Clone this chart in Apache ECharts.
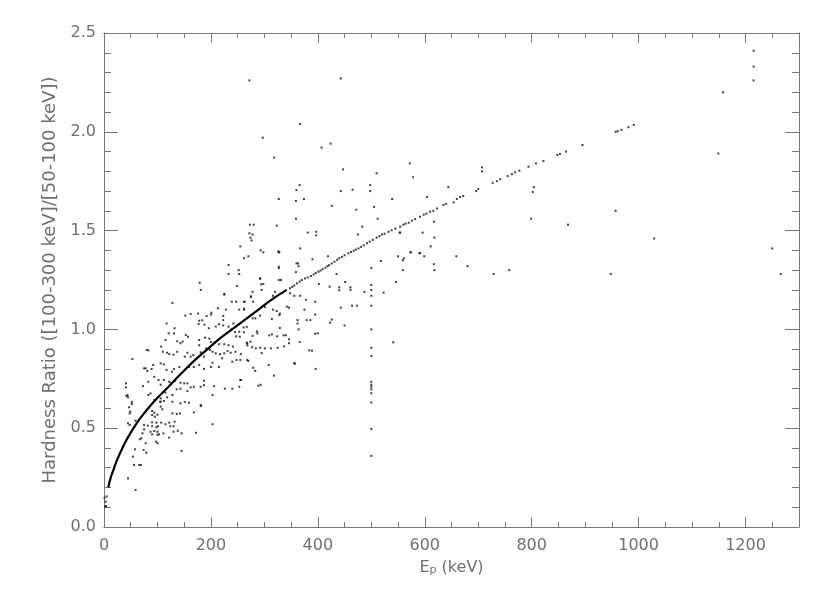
<!DOCTYPE html>
<html><head><meta charset="utf-8">
<script src="https://cdn.jsdelivr.net/npm/echarts@6/dist/echarts.min.js"></script>
<style>html,body{margin:0;padding:0;background:#fff}#c{width:830px;height:593px}</style>
</head><body><div id="c"></div>
<script>
// ---- data ----
const xTicks = [0, 200, 400, 600, 800, 1000, 1200];
const yTicks = ['0.0', '0.5', '1.0', '1.5', '2.0', '2.5'];

// dense part of the relation curve
const fitCurveE  = [8, 12, 17.5, 23, 30, 42, 61, 80, 99, 117, 142, 167, 192, 217, 242, 267, 292, 317, 342];
const fitCurveHR = [0.20, 0.245, 0.288, 0.33, 0.373, 0.44, 0.525, 0.592, 0.651, 0.70, 0.77, 0.837, 0.896, 0.955, 1.005, 1.056, 1.107, 1.157, 1.20];

// dotted continuation of the curve
const fitDots = [
  [348,1.208],[352,1.215],[356,1.222],[361,1.233],[366,1.242],[370,1.25],[376,1.258],[381,1.263],[387,1.27],
  [392,1.278],[396,1.285],[401,1.292],[405,1.298],[409,1.305],[414,1.312],[418,1.32],[421,1.325],[426,1.334],
  [431,1.343],[436,1.352],[440,1.36],[445,1.367],[450,1.375],[457,1.385],[462,1.392],[467,1.398],[471,1.404],
  [476,1.41],[481,1.418],[486,1.426],[492,1.436],[497,1.444],[503,1.453],[510,1.464],[515,1.472],[520,1.48],
  [525,1.484],[532,1.494],[538,1.502],[545,1.51],[554,1.52],[560,1.53],[564,1.535],[570,1.54],[576,1.55],
  [582,1.558],[591,1.57],[598,1.58],[603,1.586],[610,1.596],[616,1.60],[623,1.612],[635,1.63],[640,1.635],
  [654,1.643],[660,1.66],[666,1.67],[672,1.675],[696,1.70],[700,1.71],[727,1.742],[735,1.75],[741,1.76],
  [755,1.776],[763,1.786],[769,1.795],[777,1.803],[794,1.823],[808,1.84],[822,1.852],[848,1.883],[853,1.888],
  [864,1.90],[895,1.933],[957,2.00],[961,2.003],[968,2.01],[981,2.023],[991,2.035]
];

const lowRatioPoints = [
  [1,0.148],[3,0.128],[4,0.106],[2,0.103],[5,0.155],[45,0.246],[59,0.187],[54,0.356],[56,0.314],[66,0.314],[69,0.314],
  [70,0.449],[67,0.444],[78,0.424],[97,0.432],[100,0.424],[58,0.393],[74,0.39],[79,0.376],[145,0.385],[172,0.477],[203,0.52],
  [75,0.494],[72,0.474],[87,0.482],[94,0.486],[100,0.482],[90,0.469],[100,0.466],[103,0.469],[111,0.474],[130,0.482],
  [138,0.487],[145,0.474],[122,0.452],[75,0.516],[82,0.513],[90,0.53],[98,0.528],[90,0.51],[98,0.505],[101,0.51],
  [107,0.528],[115,0.52],[122,0.528],[132,0.533],[124,0.51],[130,0.51],[45,0.525],[48,0.516],[59,0.538],
  [90,0.587],[94,0.578],[90,0.567],[95,0.558],[100,0.568],[128,0.575],[136,0.572],[142,0.575],[168,0.58],
  [47,0.606],[48,0.575],[49,0.584],[52,0.633],[52,0.622]
];

const coreCloudPoints = [
  [106,0.609],[109,0.596],[105,0.634],[112,0.638],[128,0.634],[143,0.626],[151,0.633],[159,0.629],[181,0.612],
  [181,0.617],[203,0.668],[128,0.668],[115,0.68],[118,0.656],[106,0.651],[106,0.634],[94,0.643],[87,0.676],[83,0.668],
  [41,0.727],[41,0.707],[42,0.663],[45,0.656],[44,0.668],[53,0.85],[80,0.896],
  [73,0.713],[83,0.735],[94,0.76],[102,0.744],[106,0.72],[112,0.744],[122,0.735],[125,0.727],[133,0.74],[143,0.73],
  [150,0.727],[156,0.727],[162,0.707],[168,0.71],[143,0.70],[136,0.697],[156,0.688],[181,0.71],[187,0.74],[187,0.718],
  [206,0.713],[226,0.70],[240,0.70],[253,0.71],[256,0.744],
  [78,0.803],[75,0.803],[81,0.79],[92,0.82],[89,0.80],[106,0.828],[112,0.823],[117,0.795],[127,0.786],[131,0.80],
  [141,0.81],[153,0.80],[159,0.81],[168,0.81],[178,0.82],[187,0.80],[200,0.81],[215,0.81],[203,0.832],[221,0.854],
  [240,0.837],[248,0.845],[255,0.845],[268,0.845],
  [83,0.894],[107,0.913],[110,0.887],[118,0.882],[122,0.875],[137,0.887],[130,0.872],[151,0.862],[156,0.882],[162,0.862],
  [167,0.87],[187,0.862],[181,0.884],[191,0.904],[198,0.896],[203,0.887],[209,0.879],[217,0.875],[225,0.879],[231,0.89],
  [237,0.882],[246,0.887],[256,0.875],
  [115,0.946],[147,0.938],[157,0.963],[137,0.94],[143,0.93],[189,0.958],[178,0.946],[178,0.92],[197,0.953],[200,0.936],
  [206,0.933],[215,0.925],[225,0.925],[233,0.92],[241,0.913],[268,0.93],[274,0.938],
  [121,0.98],[131,0.98],[153,0.972],[117,1.03],[132,1.006],[196,1.006],[233,1.014],[238,1.0],[245,0.987],[253,0.988],
  [262,0.985],[247,0.965],[254,0.963],[188,1.024],[215,1.026],[209,1.014],[242,1.03],[223,1.02],
  [178,1.044],[184,1.046],[177,1.027],[223,1.047],[176,1.08],[201,1.085],[200,1.075],[192,1.068],[152,1.07],[162,1.078],
  [223,1.068],[213,1.107],[228,1.10],[253,1.10],[262,1.10],
  [128,1.134],[239,1.14],[247,1.14],[262,1.14],[225,1.176],[275,1.167],[179,1.236],[181,1.20],[249,1.22]
];

const midCloudPoints = [
  [278,1.48],[276,1.45],[255,1.42],[270,1.37],[262,1.36],[293,1.40],[298,1.39],[326,1.395],[328,1.39],[367,1.41],
  [381,1.49],[397,1.494],[397,1.476],[475,1.48],[553,1.49],[390,1.355],[419,1.37],[363,1.334],[364,1.32],[327,1.31],
  [359,1.29],[435,1.28],[518,1.346],[550,1.37],[561,1.36],[559,1.35],[573,1.39],[590,1.385],[559,1.30],[546,1.24],
  [523,1.186],[487,1.19],[331,1.25],[292,1.257],[298,1.23],[295,1.20],[320,1.19],[278,1.19],[275,1.165],[263,1.14],
  [279,1.14],[262,1.105],[402,1.23],[422,1.216],[440,1.213],[440,1.198],[451,1.24],[461,1.213],[461,1.20],
  [356,1.17],[367,1.17],[378,1.15],[395,1.14],[346,1.11],[342,1.115],[375,1.10],[395,1.075],[443,1.11],[464,1.12],
  [473,1.12],[426,1.05],[423,1.034],[450,1.02],[395,0.978],[400,0.98],[379,1.047],[386,1.047],[362,1.03],[362,1.047],
  [364,1.00],[346,0.95],[346,0.93],[336,0.97],[340,0.97],[324,0.965],[314,0.975],[309,0.97],[329,1.007],[337,0.914],
  [325,0.907],[312,0.904],[301,0.904],[292,0.907],[284,0.904],[277,0.91],[267,0.933],[268,0.92],[286,0.99],[287,0.98],
  [278,0.967],[295,0.88],[270,0.84],[279,0.806],[283,0.79],[308,0.82],[318,0.766],[357,0.826],[366,0.936],[384,0.894],
  [389,0.892],[396,0.80],[255,0.744],[289,0.715],[293,0.72],[356,0.83],[541,0.935],
  [261,1.01],[267,1.013],[278,1.056],[283,1.056],[314,1.053],[328,1.073],[316,1.10],[301,1.113],[323,1.093],[329,1.08],[292,1.07],
  [233,1.326],[233,1.28],[252,1.30],[253,1.28],[225,1.18],[292,1.258],[294,1.228],[327,1.39],[327,1.317],[327,1.25],
  [360,1.334],[348,1.183],[316,1.17]
];

const upperPoints = [
  [272,2.26],[443,2.27],[367,2.04],[297,1.97],[318,1.87],[407,1.92],[424,1.94],[447,1.81],[510,1.79],[572,1.84],
  [578,1.77],[366,1.73],[360,1.705],[443,1.70],[465,1.707],[498,1.73],[498,1.70],[327,1.66],[359,1.65],[374,1.66],
  [426,1.625],[472,1.606],[505,1.62],[539,1.66],[604,1.67],[644,1.72],[359,1.56],[273,1.53],[280,1.53],[323,1.525],
  [272,1.486],[274,1.464],[483,1.52],[512,1.56],[617,1.545],[596,1.49],[618,1.465]
];

const highEnergyPoints = [
  [707,1.82],[707,1.80],[804,1.72],[802,1.695],[799,1.56],[868,1.53],[957,1.60],[1029,1.46],[948,1.28],[1250,1.41],
  [1266,1.28],[1149,1.89],[1158,2.20],[1215,2.41],[1215,2.33],[1215,2.26],[611,1.42],[574,1.39],[591,1.387],[599,1.37],
  [617,1.33],[618,1.30],[659,1.37],[680,1.32],[729,1.28],[758,1.30],[554,1.49]
];

const column500Points = [
  [500,1.225],[500,1.20],[500,1.17],[500,1.12],[500,1.00],[500,0.907],[500,0.865],[500,0.735],[500,0.72],[500,0.71],
  [500,0.697],[500,0.677],[500,0.63],[500,0.496],[500,0.36],[500,1.31]
];

// ---- chart ----
const FONT = 'DejaVu Sans';
const AX = '#777777';
const TXT = '#6f6f6f';
const chart = echarts.init(document.getElementById('c'), null, {renderer: 'canvas'});

const baseX = (pos, interval, len, labels) => ({
  type: 'value', position: pos, min: 0, max: 1300, interval: interval,
  axisLine: {show: true, onZero: false, lineStyle: {color: AX, width: 1}},
  axisTick: {show: true, inside: true, length: len, lineStyle: {color: AX, width: 1}},
  axisLabel: {show: labels, color: TXT, fontFamily: FONT, fontSize: 16, margin: 11, showMaxLabel: false,
    formatter: v => (xTicks.indexOf(v) >= 0 ? String(v) : '')},
  splitLine: {show: false}
});

const series = [];
series.push({
  type: 'line', xAxisIndex: 0, yAxisIndex: 0, smooth: true, showSymbol: false,
  lineStyle: {color: '#000', width: 2.2},
  data: fitCurveE.map((e, i) => [e, fitCurveHR[i]])
});
const dotGroups = [fitDots, lowRatioPoints, coreCloudPoints, midCloudPoints, upperPoints, highEnergyPoints, column500Points];
dotGroups.forEach(g => series.push({
  type: 'scatter', xAxisIndex: 0, yAxisIndex: 0, symbol: 'rect', symbolSize: 2,
  itemStyle: {color: '#111'}, data: g
}));

chart.setOption({
  animation: false,
  backgroundColor: '#fff',
  grid: {left: 104, right: 31, top: 33, bottom: 66, containLabel: false},
  xAxis: [
    baseX('bottom', 50, 5, false),
    Object.assign(baseX('bottom', 200, 10, true), {
      name: 'E{sub|p} (keV)', nameLocation: 'middle', nameGap: 32,
      nameTextStyle: {color: TXT, fontFamily: FONT, fontSize: 16,
        rich: {sub: {fontSize: 11, fontFamily: FONT, color: TXT, verticalAlign: 'bottom', padding: [6, 0, 0, 0]}}}
    }),
    baseX('top', 50, 5, false),
    baseX('top', 200, 10, false)
  ],
  yAxis: [
    {
      type: 'value', position: 'left', min: 0, max: 2.5, interval: 0.5,
      axisLine: {show: true, onZero: false, lineStyle: {color: AX, width: 1}},
      axisTick: {show: true, inside: true, length: 14, lineStyle: {color: AX}},
      minorTick: {show: true, splitNumber: 5, length: 7, lineStyle: {color: AX}},
      axisLabel: {color: TXT, fontFamily: FONT, fontSize: 16, margin: 8,
        formatter: v => yTicks[Math.round(v / 0.5)] || ''},
      splitLine: {show: false}, minorSplitLine: {show: false},
      name: 'Hardness Ratio ([100-300 keV]/[50-100 keV])', nameLocation: 'middle', nameGap: 41,
      nameTextStyle: {color: TXT, fontFamily: FONT, fontSize: 18}
    },
    {
      type: 'value', position: 'right', min: 0, max: 2.5, interval: 0.5,
      axisLine: {show: true, onZero: false, lineStyle: {color: AX, width: 1}},
      axisTick: {show: true, inside: true, length: 14, lineStyle: {color: AX}},
      minorTick: {show: true, splitNumber: 5, length: 7, lineStyle: {color: AX}},
      axisLabel: {show: false}, splitLine: {show: false}
    }
  ],
  series: series
});
</script></body></html>
